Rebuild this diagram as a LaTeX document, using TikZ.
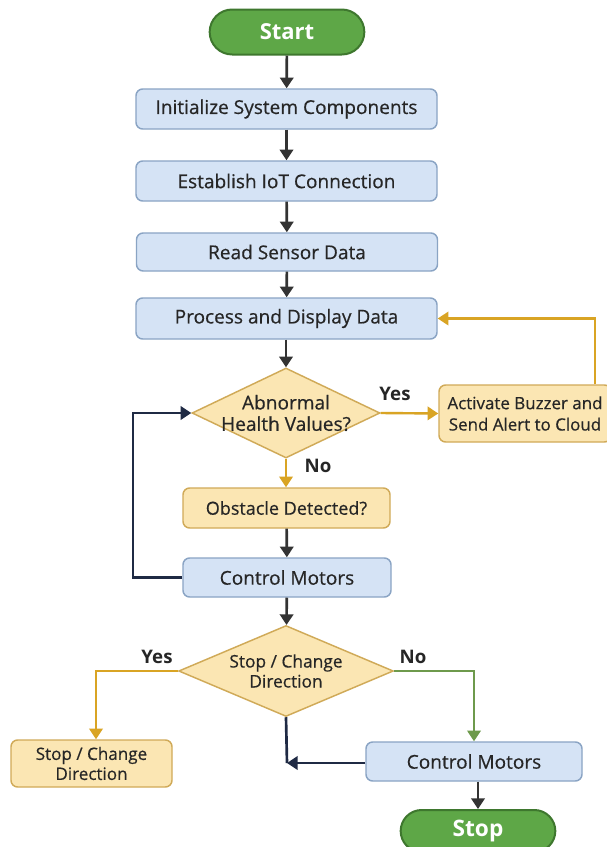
\documentclass[tikz,border=0pt]{standalone}
\usepackage{fontspec}
\setmainfont{Open Sans}
\newfontfamily\medfont{Open Sans}[FakeBold=0.5]
\usetikzlibrary{shapes.geometric,shapes.misc,arrows.meta,calc}
\definecolor{bfill}{HTML}{D5E3F5}
\definecolor{bdraw}{HTML}{8AA4C4}
\definecolor{yfill}{HTML}{FBE6B3}
\definecolor{ydraw}{HTML}{D0AA58}
\definecolor{gfill}{HTML}{5EA747}
\definecolor{gdraw}{HTML}{3E772E}
\definecolor{dark}{HTML}{333333}
\definecolor{navy}{HTML}{1F2A44}
\definecolor{yarrow}{HTML}{D9A424}
\definecolor{garrow}{HTML}{6E9A4C}
\definecolor{txt}{HTML}{262626}
\tikzset{
  x=0.75pt, y=-0.75pt,
  base/.style={font=\medfont\fontsize{14.3}{17}\selectfont, text=txt, align=center, inner sep=0pt, line width=1.1pt},
  bluebox/.style={base, rectangle, rounded corners=5pt, fill=bfill, draw=bdraw},
  yellowbox/.style={base, rectangle, rounded corners=5pt, fill=yfill, draw=ydraw},
  term/.style={base, rounded rectangle, fill=gfill, draw=gdraw, text=white, font=\fontsize{16.5}{18}\selectfont\bfseries, line width=1.5pt},
  dec/.style={base, diamond, fill=yfill, draw=ydraw, aspect=2, inner sep=-6pt},
  tip/.style={-{Triangle[width=10pt,length=8pt]}},
  darr/.style={tip, draw=dark, line width=2pt},
  yarr/.style={tip, draw=yarrow, line width=1.8pt},
  garr/.style={tip, draw=garrow, line width=1.8pt},
  narr/.style={tip, draw=navy, line width=2pt},
  lbl/.style={font=\fontsize{14}{16}\selectfont\bfseries, text=txt}
}
\begin{document}
\begin{tikzpicture}
\useasboundingbox[fill=white] (0,0) rectangle (607,847);
\node[term, minimum width=116pt, minimum height=33.75pt] (start) at (287,32) {Start};
\node[bluebox, minimum width=225.75pt, minimum height=30pt] (init) at (286.5,109) {Initialize System Components};
\node[bluebox, minimum width=225.75pt, minimum height=30pt] (iot) at (286.5,181) {Establish IoT Connection};
\node[bluebox, minimum width=225.75pt, minimum height=28.5pt] (read) at (287,252) {Read Sensor Data};
\node[bluebox, minimum width=225.75pt, minimum height=30.75pt] (proc) at (286.5,318.5) {Process and Display Data};
\node[dec, minimum width=141pt, minimum height=67.5pt, font=\medfont\fontsize{14.3}{16}\selectfont] (abn) at (286,413) {Abnormal\\Health Values?};
\node[yellowbox, minimum width=129pt, minimum height=42.75pt, font=\medfont\fontsize{12.7}{16}\selectfont] (alert) at (525,413.5) {Activate Buzzer and\\Send Alert to Cloud};
\node[yellowbox, minimum width=155.25pt, minimum height=30pt, font=\medfont\fontsize{13.5}{16}\selectfont] (obs) at (286.5,508) {Obstacle Detected?};
\node[bluebox, minimum width=156pt, minimum height=29.25pt] (cm1) at (287,577.5) {Control Motors};
\node[dec, minimum width=161pt, minimum height=68.25pt, font=\medfont\fontsize{13}{15}\selectfont] (dir) at (286,671) {Stop / Change\\Direction};
\node[yellowbox, minimum width=120.75pt, minimum height=35.25pt, font=\medfont\fontsize{12.8}{15}\selectfont] (stopc) at (91.5,763.5) {Stop / Change\\Direction};
\node[bluebox, minimum width=162pt, minimum height=29.25pt] (cm2) at (474,761.5) {Control Motors};
\node[term, minimum width=116pt, minimum height=31.5pt, font=\fontsize{17}{19}\selectfont\bfseries] (stop) at (478,831) {Stop};

\node[lbl] (yes1) at (395,394) {Yes};
\node[lbl] (no1) at (318,466) {No};
\node[lbl] (yes2) at (157,657) {Yes};
\node[lbl] (no2) at (413,657) {No};

\draw[darr] (start) -- (init);
\draw[darr] (init) -- (iot);
\draw[darr] (iot) -- (read);
\draw[darr] (read) -- (proc);
\draw[darr] (proc.south -| abn) -- (abn.north);
\draw[yarr] (abn.east) -- (alert.west);
\draw[yarr] (alert.north -| 595,0) |- (proc.east);
\draw[yarr] (abn.south) -- (obs.north -| abn);
\draw[darr] (obs) -- (cm1);
\draw[narr] (cm1.west) -- (133,577.5) |- (abn.west);
\draw[darr] (cm1) -- (dir);
\draw[yarr] (dir.west) -| (stopc.north -| 96,0);
\draw[garr] (dir.east) -| (cm2.north);
\coordinate (j) at (287,763);
\draw[draw=navy, line width=2pt] (dir.south) -- (j);
\draw[narr] (cm2.west |- j) -- (j);
\draw[darr] (cm2.south -| stop) -- (stop.north);
\end{tikzpicture}
\end{document}
